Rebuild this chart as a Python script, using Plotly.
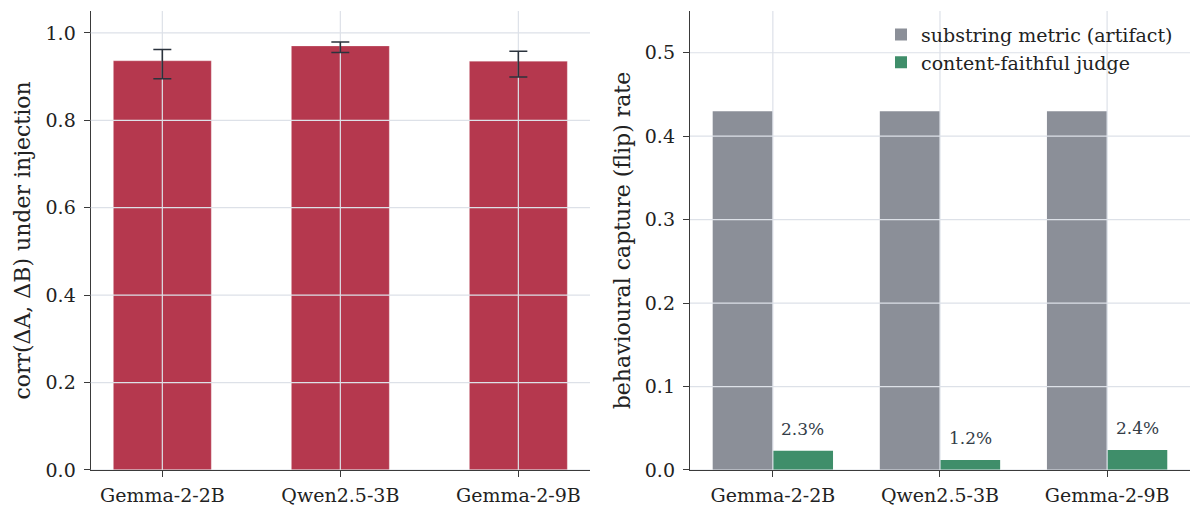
import plotly.graph_objects as go

# data
models = ["Gemma-2-2B", "Qwen2.5-3B", "Gemma-2-9B"]
corr = [0.936, 0.970, 0.935]
corr_err_hi = [0.026, 0.009, 0.023]
corr_err_lo = [0.041, 0.015, 0.036]

substring_rate = [0.430, 0.430, 0.430]
judge_rate = [0.023, 0.012, 0.024]
judge_labels = ["2.3%", "1.2%", "2.4%"]

# style
FONT = "DejaVu Serif"
RED = "#b5384e"
GRAY = "#8b8f98"
GREEN = "#3f8e6a"
GRID = "#dde1e8"
INK = "#2b333d"
SPINE = "#3a3a3a"

LEFT_W = 0.55
RIGHT_W = 0.36
LEFT_YMAX = 1.05
RIGHT_YMAX = 0.55

# the page body adds an 8px margin, so the domains are shifted by that
Y_DOM = [0.0977, 0.9941]


def pad_range(n, half):
    # matplotlib style 5% margin around the bars (half = bar extent from the tick)
    lo, hi = -half, n - 1 + half
    m = 0.05 * (hi - lo)
    return [lo - m, hi + m]


fig = go.Figure()

# left panel: correlation bars
fig.add_trace(go.Bar(x=models, y=corr, width=LEFT_W, marker_color=RED,
                     marker_line=dict(color="rgba(255,255,255,0.4)", width=0.6),
                     showlegend=False, xaxis="x", yaxis="y"))

# vertical grid over the bars, under the error bars
for xa, ya, ymax in [("x", "y", LEFT_YMAX), ("x2", "y2", RIGHT_YMAX)]:
    gx, gy = [], []
    for m in models:
        gx += [m, m, None]
        gy += [0, ymax, None]
    fig.add_trace(go.Scatter(x=gx, y=gy, mode="lines", line=dict(color=GRID, width=1.2),
                             hoverinfo="skip", showlegend=False, xaxis=xa, yaxis=ya))

fig.add_trace(go.Scatter(x=models, y=corr, mode="markers", marker=dict(opacity=0),
                         error_y=dict(type="data", array=corr_err_hi, arrayminus=corr_err_lo,
                                      color=INK, thickness=1.6, width=9),
                         showlegend=False, xaxis="x", yaxis="y"))

# right panel: capture rates
fig.add_trace(go.Bar(x=models, y=substring_rate, width=RIGHT_W, offset=-RIGHT_W,
                     marker_color=GRAY, marker_line_width=0,
                     name="substring metric (artifact)", xaxis="x2", yaxis="y2"))
fig.add_trace(go.Bar(x=models, y=judge_rate, width=RIGHT_W, offset=0,
                     marker_color=GREEN, marker_line_width=0,
                     name="content-faithful judge", xaxis="x2", yaxis="y2"))

for i, (v, lab) in enumerate(zip(judge_rate, judge_labels)):
    fig.add_annotation(x=i + RIGHT_W / 2, y=v, xref="x2", yref="y2", text=lab,
                       showarrow=False, yanchor="middle", yshift=22,
                       font=dict(family=FONT, size=17, color="#333d47"))

# horizontal grid lines, drawn above the bars like the original
shapes = []
for k in range(6):
    shapes.append(dict(type="line", xref="x domain", yref="y", x0=0, x1=1,
                       y0=k * 0.2, y1=k * 0.2, line=dict(color=GRID, width=1.2), layer="above"))
    shapes.append(dict(type="line", xref="x2 domain", yref="y2", x0=0, x1=1,
                       y0=k * 0.1, y1=k * 0.1, line=dict(color=GRID, width=1.2), layer="above"))
fig.update_layout(shapes=shapes)

axis_common = dict(showline=True, linecolor=SPINE, linewidth=1.3, ticks="outside",
                   ticklen=6, tickwidth=1.3, tickcolor=SPINE, showgrid=False,
                   zeroline=False, automargin=False,
                   tickfont=dict(family=FONT, size=19, color="#222222"))
title_font = dict(family=FONT, size=22, color="#222222")

fig.update_layout(
    width=1200, height=512,
    margin=dict(l=0, r=0, t=0, b=0),
    paper_bgcolor="white", plot_bgcolor="white",
    font=dict(family=FONT, color="#222222"),
    xaxis=dict(domain=[0.0689, 0.485], range=pad_range(3, LEFT_W / 2),
               ticklabelstandoff=2, **axis_common),
    yaxis=dict(domain=Y_DOM, range=[0, LEFT_YMAX], dtick=0.2, tickformat=".1f",
               ticklabelstandoff=4,
               title=dict(text="corr(ΔA, ΔB) under injection", standoff=8, font=title_font),
               **axis_common),
    xaxis2=dict(domain=[0.5683, 0.985], range=pad_range(3, RIGHT_W), anchor="y2",
                ticklabelstandoff=2, **axis_common),
    yaxis2=dict(domain=Y_DOM, range=[0, RIGHT_YMAX], dtick=0.1, tickformat=".1f",
                anchor="x2", ticklabelstandoff=4,
                title=dict(text="behavioural capture (flip) rate", standoff=8, font=title_font),
                **axis_common),
    legend=dict(x=0.975, y=0.985, xanchor="right", yanchor="top", bgcolor="rgba(0,0,0,0)",
                font=dict(family=FONT, size=19, color="#222222"), tracegroupgap=0),
)

fig.write_html("out.html")
